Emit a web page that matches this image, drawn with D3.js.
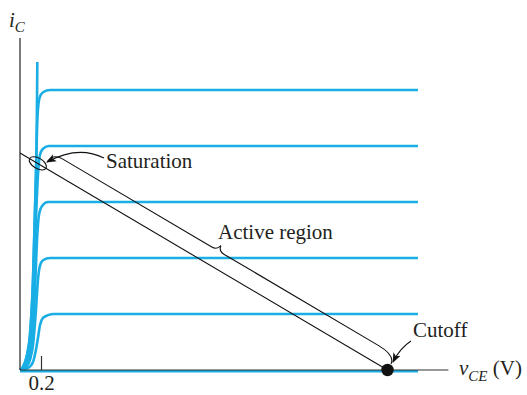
<!DOCTYPE html>
<html>
<head>
<meta charset="utf-8">
<script src="https://cdn.jsdelivr.net/npm/d3@7"></script>
<style>
  body { margin: 0; background: #fff; }
  svg text { font-family: "Liberation Serif", "Times New Roman", serif; fill: #231f20; }
</style>
</head>
<body>
<div id="chart"></div>
<script>
var width = 527, height = 395;

// characteristic curves, [vCE (V), iC (mA)]
var curve0 = [[0, 0], [3.79, 0]];
var curve1 = [[0, 0], [0.076, 0.036], [0.124, 0.143], [0.152, 0.36], [0.171, 0.57], [0.19, 0.80],
              [0.219, 0.93], [0.267, 0.98], [0.324, 1], [3.79, 1]];
var curve2 = [[0, 0], [0.057, 0.054], [0.095, 0.18], [0.124, 0.45], [0.152, 1.07], [0.171, 1.61],
              [0.19, 1.86], [0.219, 1.96], [0.286, 2], [3.79, 2]];
var curve3 = [[0, 0], [0.048, 0.054], [0.086, 0.21], [0.114, 0.54], [0.143, 1.43], [0.162, 2.32],
              [0.181, 2.77], [0.21, 2.93], [0.267, 3], [3.79, 3]];
var curve4 = [[0, 0], [0.038, 0.054], [0.076, 0.25], [0.105, 0.625], [0.133, 1.61], [0.152, 2.68],
              [0.171, 3.48], [0.19, 3.84], [0.219, 3.95], [0.276, 4], [3.79, 4]];
var curve5 = [[0, 0], [0.029, 0.054], [0.067, 0.27], [0.095, 0.625], [0.124, 1.61], [0.143, 2.86],
              [0.157, 3.93], [0.167, 4.55], [0.186, 4.86], [0.219, 4.96], [0.286, 5], [3.79, 5]];
var edgeCurve = [[0, 0], [0.029, 0.054], [0.067, 0.27], [0.095, 0.625], [0.124, 1.61], [0.143, 2.86],
                 [0.157, 3.93], [0.162, 4.82], [0.165, 5.5]];
var curves = [curve0, curve1, curve2, curve3, curve4, curve5, edgeCurve];

// load line from saturation to cutoff
var loadLine = [[0, 3.875], [3.5, 0]];
var saturationPoint = [0.17, 3.69];
var cutoffPoint = [3.5, 0];

var xTicks = [0.2];
var xTickLabels = ["0.2"];
var xAxisMax = 4.08, yAxisMax = 5.93;

var blue = "#1aaee5";

var svg = d3.select("#chart").append("svg")
    .attr("width", width)
    .attr("height", height);

var x = d3.scaleLinear().domain([0, 4]).range([20, 440]);
var y = d3.scaleLinear().domain([0, 6]).range([370, 34]);

var defs = svg.append("defs");
defs.append("marker")
    .attr("id", "arrow")
    .attr("viewBox", "0 0 10 10")
    .attr("refX", 9).attr("refY", 5)
    .attr("markerWidth", 10).attr("markerHeight", 10)
    .attr("markerUnits", "userSpaceOnUse")
    .attr("orient", "auto")
    .append("path")
    .attr("d", "M0,1 L10,5 L0,9 L2.5,5 Z")
    .attr("fill", "#111");

// curves
var line = d3.line()
    .curve(d3.curveMonotoneX)
    .x(function (d) { return x(d[0]); })
    .y(function (d) { return y(d[1]); });

svg.append("g").selectAll("path")
    .data(curves)
    .enter().append("path")
    .attr("d", line)
    .attr("fill", "none")
    .attr("stroke", blue)
    .attr("stroke-width", 2.6)
    .attr("transform", function (d, i) { return i == 0 ? "translate(0,1.2)" : null; });

// axes
svg.append("line")
    .attr("x1", x(0)).attr("x2", x(0))
    .attr("y1", y(0)).attr("y2", y(yAxisMax))
    .attr("stroke", "#333").attr("stroke-width", 1.3);
svg.append("line")
    .attr("x1", x(0)).attr("x2", x(xAxisMax))
    .attr("y1", y(0)).attr("y2", y(0))
    .attr("stroke", "#333").attr("stroke-width", 1.2);

var xAxis = svg.append("g")
    .attr("transform", "translate(0," + y(0) + ")")
    .call(d3.axisBottom(x)
        .tickValues(xTicks)
        .tickFormat(function (d, i) { return xTickLabels[i]; })
        .tickSizeInner(-14)
        .tickSizeOuter(0)
        .tickPadding(5));
xAxis.select(".domain").remove();
xAxis.selectAll(".tick line").attr("stroke", "#333").attr("stroke-width", 1.2);
xAxis.selectAll(".tick text")
    .style("font-family", "Liberation Serif")
    .style("font-size", "21px")
    .attr("fill", "#231f20");

// load line
svg.append("path")
    .attr("d", d3.line().x(function (d) { return x(d[0]); }).y(function (d) { return y(d[1]); })(loadLine))
    .attr("stroke", "#111").attr("stroke-width", 1.1).attr("fill", "none");

// saturation ellipse and cutoff dot
var angle = Math.atan2(y(loadLine[1][1]) - y(loadLine[0][1]), x(loadLine[1][0]) - x(loadLine[0][0])) * 180 / Math.PI;
svg.append("ellipse")
    .attr("cx", x(saturationPoint[0])).attr("cy", y(saturationPoint[1]))
    .attr("rx", 9.5).attr("ry", 5.2)
    .attr("transform", "rotate(" + angle + "," + x(saturationPoint[0]) + "," + y(saturationPoint[1]) + ")")
    .attr("fill", "none").attr("stroke", "#111").attr("stroke-width", 1.1);
svg.append("circle")
    .attr("cx", x(cutoffPoint[0])).attr("cy", y(cutoffPoint[1]))
    .attr("r", 6.2).attr("fill", "#111");

// brace along the load line
var p0 = [x(loadLine[0][0]), y(loadLine[0][1])];
var p1 = [x(loadLine[1][0]), y(loadLine[1][1])];
var len = Math.hypot(p1[0] - p0[0], p1[1] - p0[1]);
var u = [(p1[0] - p0[0]) / len, (p1[1] - p0[1]) / len];
var n = [u[1], -u[0]];
function pt(s, p) { return [p0[0] + u[0] * s + n[0] * p, p0[1] + u[1] * s + n[1] * p]; }
var mid = 220, off = 16.5;
var b = d3.path();
var q;
q = pt(28, 7); b.moveTo(q[0], q[1]);
q = [pt(29, off), pt(40, off)]; b.quadraticCurveTo(q[0][0], q[0][1], q[1][0], q[1][1]);
q = pt(mid - 7, off); b.lineTo(q[0], q[1]);
q = [pt(mid - 1, off), pt(mid, off + 6)]; b.quadraticCurveTo(q[0][0], q[0][1], q[1][0], q[1][1]);
q = [pt(mid + 1, off), pt(mid + 7, off)]; b.quadraticCurveTo(q[0][0], q[0][1], q[1][0], q[1][1]);
q = pt(len - 20, off); b.lineTo(q[0], q[1]);
q = [pt(len - 1, off), pt(len, 7)]; b.quadraticCurveTo(q[0][0], q[0][1], q[1][0], q[1][1]);
svg.append("path")
    .attr("d", b.toString())
    .attr("fill", "none").attr("stroke", "#111").attr("stroke-width", 1.1);

// annotation arrows
var a1 = d3.path();
a1.moveTo(104, 158);
a1.quadraticCurveTo(78, 145, 47, 162);
svg.append("path")
    .attr("d", a1.toString())
    .attr("fill", "none").attr("stroke", "#111").attr("stroke-width", 1.1)
    .attr("marker-end", "url(#arrow)");

var a2 = d3.path();
a2.moveTo(411, 341);
a2.quadraticCurveTo(400, 348, 393, 362);
svg.append("path")
    .attr("d", a2.toString())
    .attr("fill", "none").attr("stroke", "#111").attr("stroke-width", 1.1)
    .attr("marker-end", "url(#arrow)");

// labels
svg.append("text").attr("x", 106).attr("y", 168).style("font-size", "21px").text("Saturation");
svg.append("text").attr("x", 218).attr("y", 239).style("font-size", "21px").text("Active region");
svg.append("text").attr("x", 413).attr("y", 337).style("font-size", "21px").text("Cutoff");

var yl = svg.append("text").attr("x", 9).attr("y", 26.5).style("font-size", "21px");
yl.append("tspan").style("font-style", "italic").text("i");
yl.append("tspan").attr("dy", 5).style("font-size", "15px").style("font-style", "italic").text("C");

var xl = svg.append("text").attr("x", 459).attr("y", 375).style("font-size", "21px");
xl.append("tspan").style("font-style", "italic").text("v");
xl.append("tspan").attr("dy", 6).style("font-size", "15px").style("font-style", "italic").text("CE");
xl.append("tspan").attr("dy", -6).text(" (V)");
</script>
</body>
</html>
